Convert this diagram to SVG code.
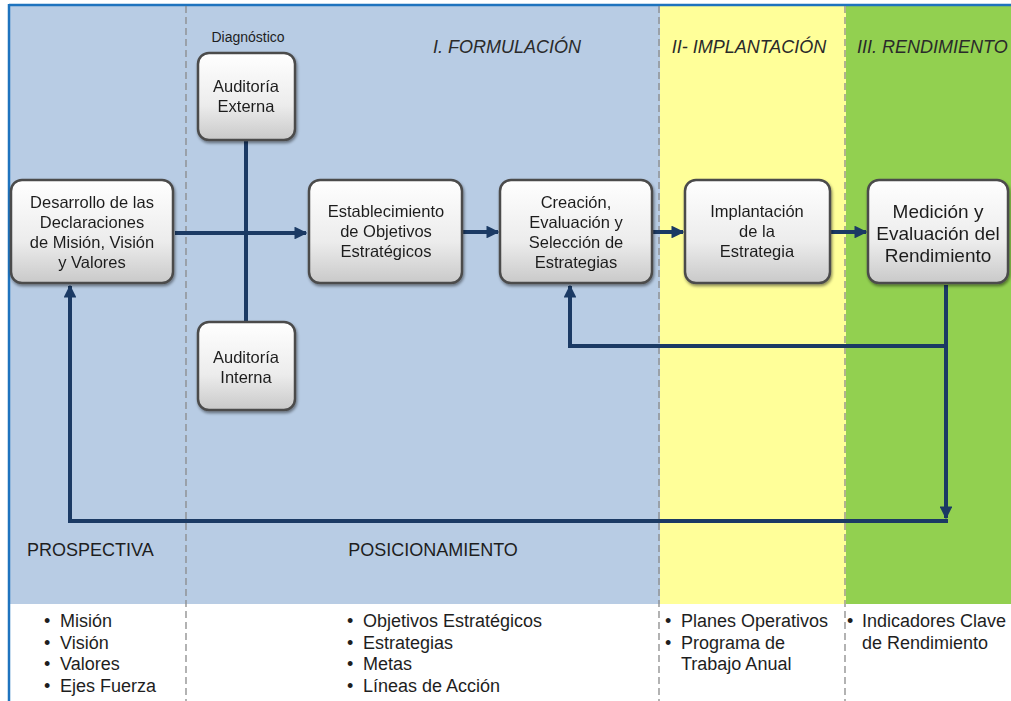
<svg xmlns="http://www.w3.org/2000/svg" width="1011" height="701" viewBox="0 0 1011 701">
<style>
.t{font-family:"Liberation Sans",Arial,sans-serif;fill:#1e1e1e}
.n{font-size:16.5px;text-anchor:middle}
.m{font-size:19px}
.h{font-size:18px;font-style:italic;fill:#2a2a2a}
.s{font-size:18px}
.box{fill:url(#g);stroke:#4b4b4b;stroke-width:2.5}
.c{fill:none;stroke:#1b3a64;stroke-width:4}
.dash{stroke:#8a8a8a;stroke-width:1.3;stroke-dasharray:7,4}
</style>
<defs>
<linearGradient id="g" x1="0" y1="0" x2="0" y2="1">
<stop offset="0" stop-color="#ffffff"/>
<stop offset="0.6" stop-color="#ececec"/>
<stop offset="1" stop-color="#c9c9c9"/>
</linearGradient>
<filter id="sh" x="-10%" y="-10%" width="130%" height="130%">
<feDropShadow dx="1" dy="2" stdDeviation="1.5" flood-color="#000" flood-opacity="0.45"/>
</filter>
<marker id="a" viewBox="0 0 10 10" refX="9" refY="5" markerWidth="3.2" markerHeight="3.2" orient="auto">
<path d="M0,0 L10,5 L0,10 z" fill="#1b3a64"/>
</marker>
</defs>
<rect x="0" y="0" width="1011" height="701" fill="#fff"/>
<rect x="10" y="6" width="650" height="598" fill="#b8cce4"/>
<rect x="660" y="6" width="186" height="598" fill="#ffff99"/>
<rect x="846" y="6" width="165" height="598" fill="#92d050"/>
<line x1="9" y1="5" x2="1011" y2="5" stroke="#1e73be" stroke-width="2.5"/>
<line x1="9" y1="4" x2="9" y2="701" stroke="#1e73be" stroke-width="2.5"/>
<line class="dash" x1="186" y1="6" x2="186" y2="701"/>
<line class="dash" x1="659" y1="6" x2="659" y2="701"/>
<line class="dash" x1="845" y1="6" x2="845" y2="701"/>

<text class="t h" x="507" y="53" text-anchor="middle">I. FORMULACIÓN</text>
<text class="t h" x="749" y="53" text-anchor="middle">II- IMPLANTACIÓN</text>
<text class="t h" x="857" y="53">III. RENDIMIENTO</text>
<text class="t" x="248" y="42" font-size="14" text-anchor="middle">Diagnóstico</text>

<g id="connectors">
<path class="c" d="M175,233 H306" marker-end="url(#a)"/>
<path class="c" d="M246,140 V322"/>
<path class="c" d="M462,232 H498" marker-end="url(#a)"/>
<path class="c" d="M652,232 H683" marker-end="url(#a)"/>
<path class="c" d="M830,232 H866" marker-end="url(#a)"/>
<path class="c" d="M946,285 V518" marker-end="url(#a)"/>
<path class="c" d="M946,346 H570 V286" marker-end="url(#a)"/>
<path class="c" d="M948,521 H70 V286" marker-end="url(#a)"/>
</g>

<g id="n-desarrollo" filter="url(#sh)">
<rect class="box" x="11" y="180" width="162" height="103" rx="11"/>
<text class="t n" x="92" y="208">Desarrollo de las</text>
<text class="t n" x="92" y="228">Declaraciones</text>
<text class="t n" x="92" y="248">de Misión, Visión</text>
<text class="t n" x="92" y="268">y Valores</text>
</g>
<g id="n-externa" filter="url(#sh)">
<rect class="box" x="198" y="53" width="97" height="87" rx="11"/>
<text class="t n" x="246" y="92">Auditoría</text>
<text class="t n" x="246" y="112">Externa</text>
</g>
<g id="n-interna" filter="url(#sh)">
<rect class="box" x="198" y="322" width="97" height="88" rx="11"/>
<text class="t n" x="246" y="363">Auditoría</text>
<text class="t n" x="246" y="383">Interna</text>
</g>
<g id="n-establecimiento" filter="url(#sh)">
<rect class="box" x="309" y="180" width="153" height="103" rx="11"/>
<text class="t n" x="386" y="217">Establecimiento</text>
<text class="t n" x="386" y="237">de Objetivos</text>
<text class="t n" x="386" y="257">Estratégicos</text>
</g>
<g id="n-creacion" filter="url(#sh)">
<rect class="box" x="500" y="180" width="152" height="103" rx="11"/>
<text class="t n" x="576" y="208">Creación,</text>
<text class="t n" x="576" y="228">Evaluación y</text>
<text class="t n" x="576" y="248">Selección de</text>
<text class="t n" x="576" y="268">Estrategias</text>
</g>
<g id="n-implantacion" filter="url(#sh)">
<rect class="box" x="685" y="180" width="145" height="103" rx="11"/>
<text class="t n" x="757" y="217">Implantación</text>
<text class="t n" x="757" y="237">de la</text>
<text class="t n" x="757" y="257">Estrategia</text>
</g>
<g id="n-medicion" filter="url(#sh)">
<rect class="box" x="868" y="180" width="140" height="103" rx="11"/>
<text class="t n m" x="938" y="218">Medición y</text>
<text class="t n m" x="938" y="240">Evaluación del</text>
<text class="t n m" x="938" y="262">Rendimiento</text>
</g>

<text class="t s" x="27" y="556">PROSPECTIVA</text>
<text class="t s" x="433" y="556" text-anchor="middle">POSICIONAMIENTO</text>

<g class="t s">
<text x="44" y="627">•</text><text x="60" y="627">Misión</text>
<text x="44" y="649">•</text><text x="60" y="649">Visión</text>
<text x="44" y="670">•</text><text x="60" y="670">Valores</text>
<text x="44" y="692">•</text><text x="60" y="692">Ejes Fuerza</text>
<text x="347" y="627">•</text><text x="363" y="627">Objetivos Estratégicos</text>
<text x="347" y="649">•</text><text x="363" y="649">Estrategias</text>
<text x="347" y="670">•</text><text x="363" y="670">Metas</text>
<text x="347" y="692">•</text><text x="363" y="692">Líneas de Acción</text>
<text x="665" y="627">•</text><text x="681" y="627">Planes Operativos</text>
<text x="665" y="649">•</text><text x="681" y="649">Programa de</text>
<text x="681" y="670">Trabajo Anual</text>
<text x="847" y="627">•</text><text x="862" y="627">Indicadores Clave</text>
<text x="862" y="649">de Rendimiento</text>
</g>
</svg>
